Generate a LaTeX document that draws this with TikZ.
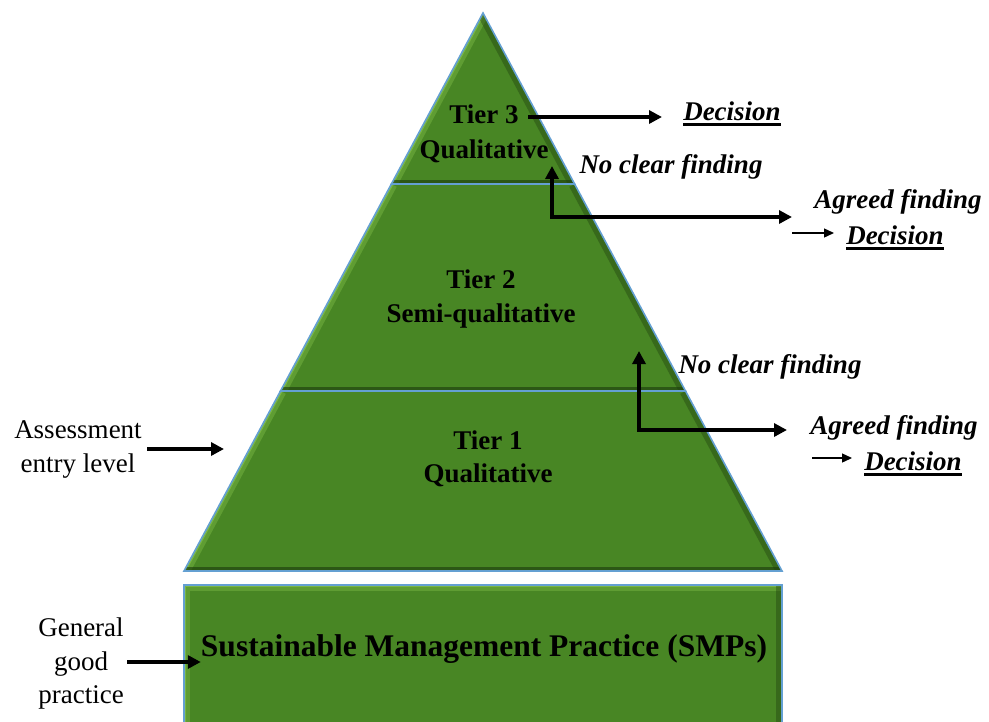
\documentclass[tikz,border=0pt]{standalone}
\usepackage{fontspec}
\setmainfont{Liberation Serif}
\usetikzlibrary{arrows.meta}

\definecolor{tiergreen}{RGB}{72,134,36}
\definecolor{tierlight}{RGB}{140,200,80}
\definecolor{tierdark}{RGB}{30,62,14}
\definecolor{edgeblue}{RGB}{100,160,210}

% bevelled green shape: fill, clip, light left rim, dark right rim and base
\newcommand{\bevelshape}[4]{% #1 path, #2 left rim, #3 right rim, #4 base
  \fill[tiergreen] #1;
  \begin{scope}
    \clip #1;
    \draw[line width=12pt, tierlight, opacity=0.35] #2;
    \draw[line width=4pt, tierlight, opacity=0.6] #2;
    \draw[line width=12pt, tierdark, opacity=0.4] #3;
    \draw[line width=9pt, tierdark, opacity=0.65] #4;
  \end{scope}
  \draw[edgeblue, line width=1.6pt, line join=miter] #1;
}

\begin{document}
\begin{tikzpicture}[x=1pt,y=-1pt,
  tiertext/.style={font=\fontsize{27}{32}\selectfont\bfseries, inner sep=0pt, anchor=base},
  smptext/.style={font=\fontsize{31.5}{36}\selectfont\bfseries, inner sep=0pt, anchor=base},
  note/.style={font=\fontsize{27}{32}\selectfont\bfseries\itshape, inner sep=0pt, anchor=base},
  plain/.style={font=\fontsize{27}{32}\selectfont, inner sep=0pt, anchor=base},
  bigarrow/.style={line width=3.6pt, line join=miter, -{Triangle[length=13pt,width=13pt]}},
  elbow/.style={line width=3.6pt, line join=miter,
    {Triangle[length=13pt,width=13pt]}-{Triangle[length=13pt,width=13pt]}},
  smallarrow/.style={line width=1.4pt, -{Triangle[length=10pt,width=9pt]}},
  uline/.style={line width=2.4pt},
]
\useasboundingbox (0,0) rectangle (989,721);

% pyramid corners
\coordinate (apex) at (483,13);
\coordinate (l3) at (391.4,184);  \coordinate (r3) at (574.6,184);
\coordinate (l2) at (280.5,391);  \coordinate (r2) at (685.5,391);
\coordinate (l1) at (184,571);    \coordinate (r1) at (782,571);

% tiers
\bevelshape{(apex) -- (l3) -- (r3) -- cycle}{(l3) -- (apex)}{(apex) -- (r3)}{(l3) -- (r3)}
\bevelshape{(l3) -- (r3) -- (r2) -- (l2) -- cycle}{(l2) -- (l3)}{(r3) -- (r2)}{(l2) -- (r2)}
\bevelshape{(l2) -- (r2) -- (r1) -- (l1) -- cycle}{(l1) -- (l2)}{(r2) -- (r1)}{(l1) -- (r1)}

% base block
\bevelshape{(184,585) rectangle (782,730)}{(184,730) -- (184,585) -- (782,585)}{(782,585) -- (782,730)}{(184,730) -- (782,730)}

% tier labels
\node[tiertext] (t3) at (484,123) {Tier 3};
\node[tiertext] (q3) at (484,158) {Qualitative};
\node[tiertext] (t2) at (481,288) {Tier 2};
\node[tiertext] (s2) at (481,322) {Semi-qualitative};
\node[tiertext] (t1) at (488,449) {Tier 1};
\node[tiertext] (q1) at (488,482) {Qualitative};
\node[smptext] (smp) at (484,656) {Sustainable Management Practice (SMPs)};

% outcomes
\node[note] (dec3) at (732,120) {Decision};
\node[note] (ncf3) at (671,173) {No clear finding};
\node[note] (agr2) at (898,208) {Agreed finding};
\node[note] (dec2) at (895,244) {Decision};
\node[note] (ncf2) at (770,373) {No clear finding};
\node[note] (agr1) at (894,434) {Agreed finding};
\node[note] (dec1) at (913,470) {Decision};

\foreach \d in {dec3,dec2,dec1}
  \draw[uline] ([yshift=-4.5pt]\d.base west) -- ([yshift=-4.5pt]\d.base east);

% entry labels
\node[plain] (as1) at (78,438) {Assessment};
\node[plain] (as2) at (78,472) {entry level};
\node[plain] (gp1) at (81,636) {General};
\node[plain] (gp2) at (81,670) {good};
\node[plain] (gp3) at (81,703) {practice};

% arrow end points
\coordinate (t3out) at (528,117);
\coordinate (dec3in) at (662,117);
\coordinate (up2) at (552,166);
\coordinate (corner2) at (552,217);
\coordinate (agr2in) at (792,217);
\coordinate (dec2from) at (792,233);
\coordinate (dec2in) at (834,233);
\coordinate (up1) at (639,351);
\coordinate (corner1) at (639,430);
\coordinate (agr1in) at (787,430);
\coordinate (dec1from) at (812,458);
\coordinate (dec1in) at (852,458);
\coordinate (asout) at (147,449);
\coordinate (asin) at (224,449);
\coordinate (gpout) at (127,662);

% connectors
\draw[bigarrow] (t3out) -- (dec3in);
\draw[elbow] (up2) -- (corner2) -- (agr2in);
\draw[smallarrow] (dec2from) -- (dec2in);
\draw[elbow] (up1) -- (corner1) -- (agr1in);
\draw[smallarrow] (dec1from) -- (dec1in);
\draw[bigarrow] (asout) -- (asin);
\draw[bigarrow] (gpout) -- (smp.west |- gpout);
\end{tikzpicture}
\end{document}
